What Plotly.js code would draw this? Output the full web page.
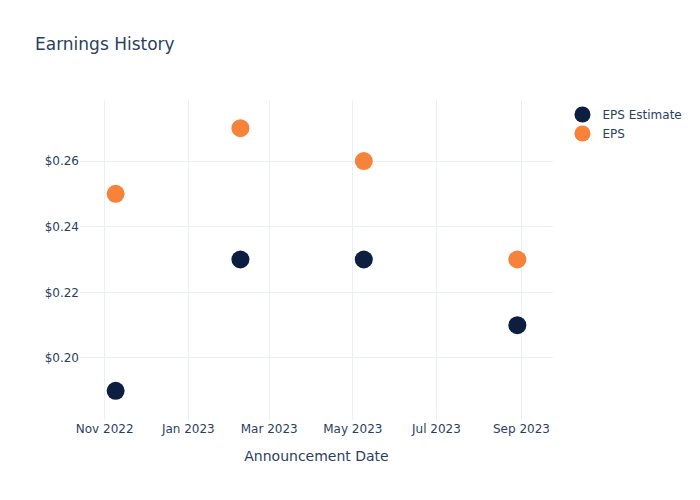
<!DOCTYPE html>
<html>
<head>
<meta charset="utf-8">
<script src="https://cdn.plot.ly/plotly-3.0.1.min.js"></script>
<style>html,body{margin:0;padding:0;background:#fff;}#chart{width:700px;height:500px;}</style>
</head>
<body>
<div id="chart"></div>
<script>
const dates = ['2022-11-09', '2023-02-08', '2023-05-09', '2023-08-29'];
const epsEstimate = [0.19, 0.23, 0.23, 0.21];
const eps = [0.25, 0.27, 0.26, 0.23];

const traces = [
  {
    x: dates, y: epsEstimate, name: 'EPS Estimate', type: 'scatter', mode: 'markers',
    marker: {color: '#0c1f40', size: 18}
  },
  {
    x: dates, y: eps, name: 'EPS', type: 'scatter', mode: 'markers',
    marker: {color: '#f78239', size: 18}
  }
];

const layout = {
  width: 700, height: 500,
  paper_bgcolor: '#fff', plot_bgcolor: '#fff',
  font: {family: '"DejaVu Sans", verdana, sans-serif', color: '#2a3f5f', size: 12},
  title: {text: 'Earnings History', x: 0.05, xanchor: 'left', y: 0.912, yanchor: 'middle', font: {size: 17, color: '#2a3f5f'}},
  margin: {l: 80, r: 147, t: 100, b: 80},
  xaxis: {
    type: 'date',
    title: {text: 'Announcement Date', font: {size: 14}, standoff: 16},
    automargin: true,
    gridcolor: '#EBF0F8', zeroline: false, showline: false,
    tickformat: '%b %Y', dtick: 'M2', ticks: '',
    range: ['2022-10-14', '2023-09-24']
  },
  yaxis: {
    tickprefix: '$', tickformat: '.2f', dtick: 0.02,
    gridcolor: '#EBF0F8', zeroline: false, showline: false, ticks: '',
    range: [0.1811, 0.2786]
  },
  legend: {x: 1.02, y: 1, xanchor: 'left', yanchor: 'top', font: {size: 12}},
  showlegend: true
};

Plotly.newPlot('chart', traces, layout, {displayModeBar: false});
</script>
</body>
</html>
